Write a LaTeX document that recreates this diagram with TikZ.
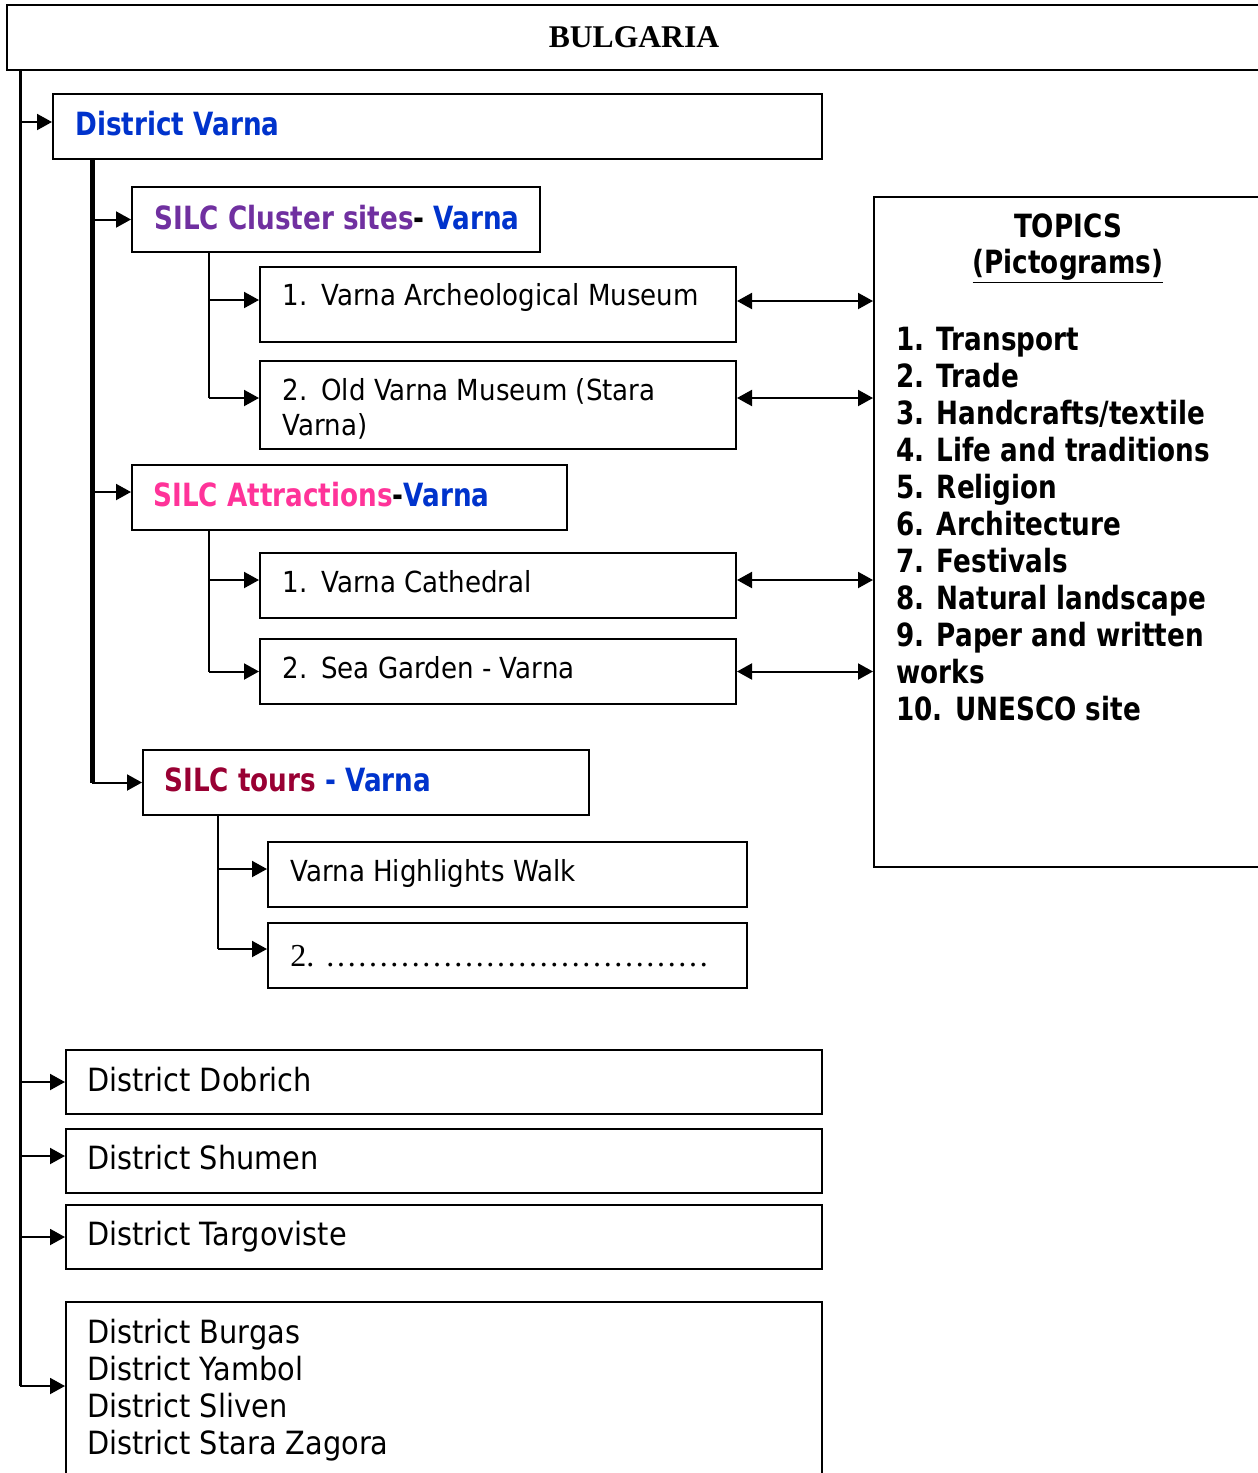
\documentclass[tikz,border=0pt]{standalone}
\usepackage{fontspec}
\setmainfont{DejaVu Sans}[FakeStretch=0.9, BoldFeatures={FakeStretch=0.82}]
\newfontfamily\tnr{Liberation Serif}
\usetikzlibrary{arrows.meta,fit}
\definecolor{vblue}{RGB}{0,51,204}
\definecolor{vpurp}{RGB}{112,48,160}
\definecolor{vpink}{RGB}{255,51,153}
\definecolor{vred}{RGB}{153,0,51}
\newcommand\onedot{…}
\newcommand\fourdots{\onedot\onedot\onedot\onedot}
\begin{document}
\begin{tikzpicture}[x=0.5pt,y=-0.5pt,
  box/.style={draw, line width=1pt, inner sep=0pt},
  txt/.style={anchor=base west, inner sep=0pt, font=\fontsize{16}{18.5}\selectfont},
  stxt/.style={anchor=base west, inner sep=0pt, font=\fontsize{14.5}{17}\selectfont},
  btxt/.style={anchor=base west, inner sep=0pt, font=\fontsize{16}{18.5}\selectfont\bfseries},
  arr/.style={-{Triangle[length=7.5pt,width=8pt]}, line width=1pt},
  darr/.style={{Triangle[length=7.5pt,width=8pt]}-{Triangle[length=7.5pt,width=8pt]}, line width=1pt},
  thin/.style={line width=1pt}]
\useasboundingbox (0,0) rectangle (1258,1473);
\clip (0,0) rectangle (1258,1473);
% title
\node[box, fit={(7,5)(1285,70)}] (bul) {};
\node[anchor=base, inner sep=0pt, font=\tnr\bfseries\fontsize{15.8}{18}\selectfont] (bult) at (634,47) {BULGARIA};
% District Varna
\node[box, fit={(53,94)(822,159)}] (dv) {};
\node[btxt, text=vblue] (dvt) at (75,135) {District Varna};
% Cluster sites
\node[box, fit={(132,187)(540,252)}] (cl) {};
\node[btxt] (clt) at (154,229) {\textcolor{vpurp}{SILC Cluster sites}- \textcolor{vblue}{Varna}};
\node[box, fit={(260,267)(736,342)}] (m1) {};
\node[stxt] (m1t) at (282,305) {1.\hspace{1.5pt} Varna Archeological Museum};
\node[box, fit={(260,361)(736,449)}] (m2) {};
\node[stxt] (m2a) at (282,400) {2.\hspace{1.5pt} Old Varna Museum (Stara};
\node[stxt] (m2b) at (282,435) {Varna)};
% Attractions
\node[box, fit={(132,465)(567,530)}] (at) {};
\node[btxt] (att) at (153,506) {\textcolor{vpink}{SILC Attractions}-\textcolor{vblue}{Varna}};
\node[box, fit={(260,553)(736,618)}] (a1) {};
\node[stxt] (a1t) at (282,592) {1.\hspace{1.5pt} Varna Cathedral};
\node[box, fit={(260,639)(736,704)}] (a2) {};
\node[stxt] (a2t) at (282,678) {2.\hspace{1.5pt} Sea Garden - Varna};
% Tours
\node[box, fit={(143,750)(589,815)}] (tr) {};
\node[btxt] (trt) at (164,791) {\textcolor{vred}{SILC tours} \textcolor{vblue}{- Varna}};
\node[box, fit={(268,842)(747,907)}] (t1) {};
\node[stxt] (t1t) at (290,881) {Varna Highlights Walk};
\node[box, fit={(268,923)(747,988)}] (t2) {};
\node[anchor=base west, inner sep=0pt, font=\tnr\fontsize{16}{18}\selectfont] (t2t) at (290,966) {2. \fourdots\fourdots\fourdots};
% Topics
\node[box, fit={(874,197)(1285,867)}] (tp) {};
\node[btxt, anchor=base] (tph) at (1068,237) {TOPICS};
\node[btxt, anchor=base] (tpp) at (1068,273) {\underline{(Pictograms)}};
\foreach \t [count=\i from 0] in {1. Transport, 2. Trade, 3. Handcrafts/textile, 4. Life and traditions, 5. Religion, 6. Architecture, 7. Festivals, 8. Natural landscape, 9. Paper and written, works, 10. UNESCO site}
  \node[btxt] (tpi\i) at (896,{350+37*\i}) {\t};
% other districts
\node[box, fit={(66,1050)(822,1114)}] (d1) {};
\node[txt] (d1t) at (87,1091) {District Dobrich};
\node[box, fit={(66,1129)(822,1193)}] (d2) {};
\node[txt] (d2t) at (87,1169) {District Shumen};
\node[box, fit={(66,1205)(822,1269)}] (d3) {};
\node[txt] (d3t) at (87,1245) {District Targoviste};
\node[box, fit={(66,1302)(822,1495)}] (d4) {};
\node[txt] (d4a) at (87,1343) {District Burgas};
\node[txt] (d4b) at (87,1380) {District Yambol};
\node[txt] (d4c) at (87,1417) {District Sliven};
\node[txt] (d4d) at (87,1454) {District Stara Zagora};
% entry points
\coordinate (dvin) at ([yshift=2.25pt]dv.west);
\coordinate (d2in) at ([yshift=2.5pt]d2.west);
\coordinate (atin) at ([yshift=2.75pt]at.west);
\coordinate (m1in) at ([yshift=2.25pt]m1.west);
\coordinate (m2in) at ([yshift=3.5pt]m2.west);
\coordinate (a1in) at ([yshift=2.75pt]a1.west);
\coordinate (t1in) at ([yshift=2.75pt]t1.west);
\coordinate (t2in) at ([yshift=3.25pt]t2.west);
\coordinate (m1out) at ([yshift=1.75pt]m1.east);
\coordinate (m2out) at ([yshift=3.5pt]m2.east);
\coordinate (a1out) at ([yshift=2.75pt]a1.east);
% main trunk
\coordinate (tk) at (20,70);
\coordinate (tkb) at (20,1386);
\draw[line width=1.5pt] (tk) -- (tkb);
\draw[arr] (tk |- dvin) -- (dvin);
\draw[arr] (tk |- d1.west) -- (d1.west);
\draw[arr] (tk |- d2in) -- (d2in);
\draw[arr] (tk |- d3.west) -- (d3.west);
\draw[arr] (tkb) -- (tkb -| d4.west);
% secondary trunk
\coordinate (st) at (92,159);
\draw[line width=2.5pt] (st) -- (st |- tr.west);
\draw[arr] (st |- tr.west) -- (tr.west);
\draw[arr] (st |- cl.west) -- (cl.west);
\draw[arr] (st |- atin) -- (atin);
% cluster sub-line
\coordinate (s1) at (209,252);
\draw[thin] (s1) -- (s1 |- m2in);
\draw[arr] (s1 |- m1in) -- (m1in);
\draw[arr] (s1 |- m2in) -- (m2in);
% attractions sub-line
\coordinate (s2) at (209,530);
\draw[thin] (s2) -- (s2 |- a2.west);
\draw[arr] (s2 |- a1in) -- (a1in);
\draw[arr] (s2 |- a2.west) -- (a2.west);
% tours sub-line
\coordinate (s3) at (218,815);
\draw[thin] (s3) -- (s3 |- t2in);
\draw[arr] (s3 |- t1in) -- (t1in);
\draw[arr] (s3 |- t2in) -- (t2in);
% links to topics
\draw[darr] (m1out) -- (m1out -| tp.west);
\draw[darr] (m2out) -- (m2out -| tp.west);
\draw[darr] (a1out) -- (a1out -| tp.west);
\draw[darr] (a2.east) -- (a2.east -| tp.west);
\end{tikzpicture}
\end{document}
